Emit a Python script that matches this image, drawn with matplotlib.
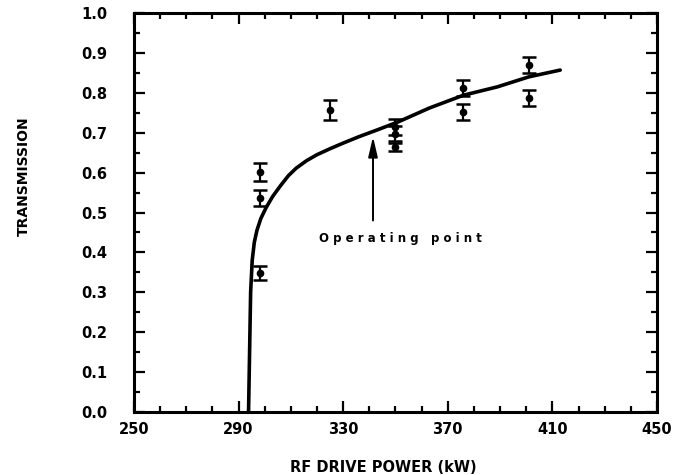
import numpy as np
import matplotlib
matplotlib.use('Agg')
import matplotlib.pyplot as plt
from matplotlib.ticker import MultipleLocator, FixedLocator

# measured transmission vs RF drive power
power_pts = [298, 298, 298, 325, 350, 350, 350, 376, 376, 401, 401]
trans_pts = [0.602, 0.536, 0.348, 0.757, 0.714, 0.698, 0.665, 0.812, 0.752, 0.870, 0.787]
trans_err = [0.022, 0.020, 0.018, 0.024, 0.020, 0.018, 0.010, 0.021, 0.021, 0.020, 0.021]

# fitted curve
curve_power = [293.8, 294.2, 294.6, 295.2, 296.0, 297.0, 298.5, 300.5, 303, 306,
               309, 312, 316, 320, 325, 330, 336, 343, 351, 363, 376, 389, 401, 413]
curve_trans = [0.0, 0.15, 0.30, 0.38, 0.425, 0.455, 0.485, 0.512, 0.54, 0.567,
               0.592, 0.611, 0.630, 0.645, 0.660, 0.674, 0.690, 0.707, 0.727,
               0.762, 0.794, 0.815, 0.84, 0.857]

xticks = [250, 290, 330, 370, 410, 450]
yticks = [0.0, 0.1, 0.2, 0.3, 0.4, 0.5, 0.6, 0.7, 0.8, 0.9, 1.0]

plt.rcParams['font.family'] = ['DejaVu Sans']
plt.rcParams['font.weight'] = 'bold'

fig = plt.figure(figsize=(6.89, 4.75), dpi=100)
ax = fig.add_axes([0.1945, 0.1326, 0.759, 0.84])

ax.plot(curve_power, curve_trans, color='black', lw=2.6, solid_capstyle='round')
ax.errorbar(power_pts, trans_pts, yerr=trans_err, fmt='o', color='black',
            ms=4.5, elinewidth=1.6, capsize=5, capthick=1.8)

ax.annotate('', xy=(341.4, 0.69), xytext=(341.4, 0.48),
            arrowprops=dict(arrowstyle='-|>,head_length=1.2,head_width=0.28',
                            mutation_scale=10, lw=1.4, color='black',
                            shrinkA=0, shrinkB=0))
ax.text(352, 0.436, 'O p e r a t i n g   p o i n t', ha='center', va='center',
        fontsize=8.5, fontweight='bold')

ax.set_xlim(250, 450)
ax.set_ylim(0, 1.0)
ax.xaxis.set_major_locator(FixedLocator(xticks))
ax.xaxis.set_minor_locator(MultipleLocator(10))
ax.yaxis.set_major_locator(FixedLocator(yticks))
ax.yaxis.set_minor_locator(MultipleLocator(0.05))
ax.set_xticklabels([str(v) for v in xticks], fontsize=10.5, fontweight='bold')
ax.set_yticklabels(['%.1f' % v for v in yticks], fontsize=10.5, fontweight='bold')

ax.tick_params(which='both', direction='in', top=True, right=True, width=1.6)
ax.tick_params(which='major', length=8)
ax.tick_params(which='minor', length=4)
ax.tick_params(axis='y', which='major', pad=19)
ax.tick_params(axis='x', which='major', pad=7)
for s in ax.spines.values():
    s.set_linewidth(2.2)

ax.set_xlabel('RF DRIVE POWER (kW)', fontsize=10.5, fontweight='bold')
ax.xaxis.set_label_coords(0.476, -0.12)
ax.set_ylabel('TRANSMISSION', fontsize=10, fontweight='bold')
ax.yaxis.set_label_coords(-0.198, 0.59)

fig.savefig('out.png', dpi=100)
